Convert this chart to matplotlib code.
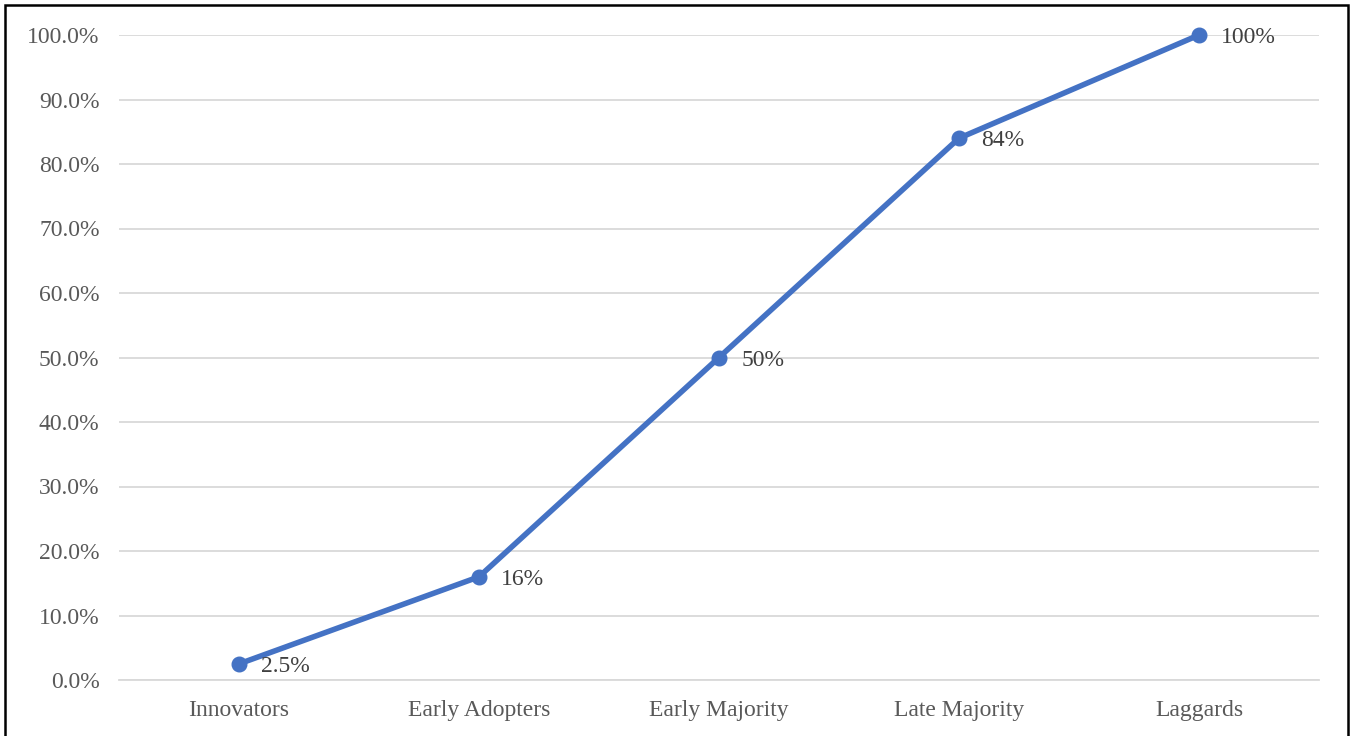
import matplotlib.pyplot as plt
from matplotlib.patches import Rectangle
from matplotlib.ticker import PercentFormatter

categories = ['Innovators', 'Early Adopters', 'Early Majority', 'Late Majority', 'Laggards']
adoption = [2.5, 16, 50, 84, 100]
labels = ['2.5%', '16%', '50%', '84%', '100%']
yticks = [0, 10, 20, 30, 40, 50, 60, 70, 80, 90, 100]

plt.rcParams['font.family'] = ['Liberation Serif', 'DejaVu Serif']

fig = plt.figure(figsize=(13.54, 7.36), dpi=100)
ax = fig.add_axes([119 / 1354, 1 - 680 / 736, 1200 / 1354, 645 / 736])

x = list(range(len(categories)))
ax.plot(x, adoption, color='#4472C4', linewidth=4.0, marker='o', markersize=10.5,
        solid_capstyle='round', zorder=3, clip_on=False)

for xi, yi, lab in zip(x, adoption, labels):
    ax.annotate(lab, (xi, yi), xytext=(16, -2), textcoords='offset points',
                ha='left', va='center', fontsize=17, color='#404040')

ax.set_xlim(-0.5, len(categories) - 0.5)
ax.set_ylim(0, 100)
ax.set_xticks(x)
ax.set_xticklabels(categories)
ax.set_yticks(yticks)
ax.yaxis.set_major_formatter(PercentFormatter(decimals=1))

ax.grid(axis='y', color='#D9D9D9', linewidth=1.3)
ax.set_axisbelow(True)
for side in ['top', 'left', 'right']:
    ax.spines[side].set_visible(False)
ax.spines['bottom'].set_color('#D9D9D9')
ax.spines['bottom'].set_linewidth(1.3)
ax.tick_params(axis='both', length=0, labelsize=17, labelcolor='#595959')
ax.tick_params(axis='y', pad=14)
ax.tick_params(axis='x', pad=14.5)

# outer frame around the chart
fig.patches.append(Rectangle((5 / 1354, -0.05), 1343 / 1354, 1.05 - 5 / 736,
                             transform=fig.transFigure, fill=False,
                             edgecolor='black', linewidth=1.8))

fig.savefig('out.png', dpi=100)
